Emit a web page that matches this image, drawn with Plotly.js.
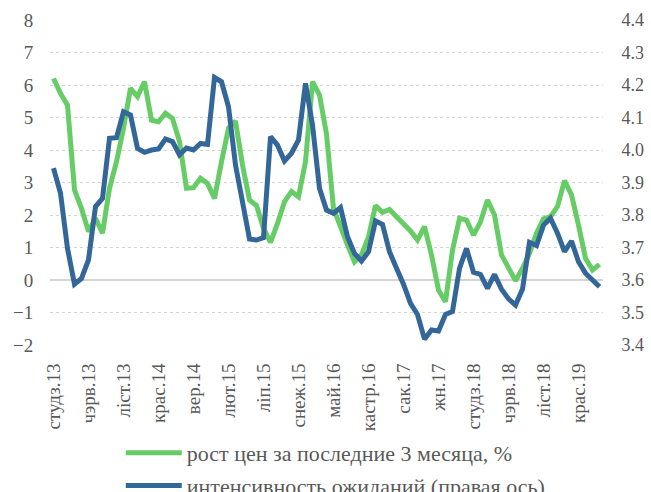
<!DOCTYPE html>
<html>
<head>
<meta charset="utf-8">
<script src="https://cdn.plot.ly/plotly-3.0.1.min.js"></script>
<style>
  html, body { margin: 0; padding: 0; background: #fff; }
  #chart { width: 651px; height: 492px; }
</style>
</head>
<body>
<div id="chart"></div>
<script>
const monthNames = ["студз", "лют", "сак", "крас", "май", "чэрв", "ліп", "жн", "вер", "кастр", "ліст", "снеж"];
const firstYear = 13;
const monthCount = 79;

// рост цен за последние 3 месяца, % (left axis)
const priceGrowth = [
  6.2, 5.74, 5.38, 2.77, 2.2, 1.49, 1.9, 1.44, 2.82, 3.64,
  4.67, 5.9, 5.64, 6.1, 4.92, 4.87, 5.13, 4.97, 4.26, 2.82,
  2.84, 3.13, 2.97, 2.51, 3.64, 4.67, 4.89, 3.54, 2.46, 2.29,
  1.59, 1.16, 1.74, 2.41, 2.72, 2.56, 3.64, 6.1, 5.69, 4.5,
  2.2, 1.59, 1.08, 0.56, 0.77, 1.33, 2.29, 2.08, 2.17, 1.95,
  1.74, 1.51, 1.23, 1.64, 0.77, -0.31, -0.67, 0.92, 1.9, 1.84,
  1.38, 1.79, 2.46, 2.0, 0.77, 0.41, -0.02, 0.36, 0.82, 1.44,
  1.88, 1.95, 2.26, 3.06, 2.62, 1.69, 0.67, 0.31, 0.48
];

// интенсивность ожиданий (right axis)
const expectations = [
  3.944, 3.867, 3.697, 3.587, 3.605, 3.662, 3.826, 3.851, 4.036, 4.038,
  4.118, 4.108, 4.005, 3.993, 4.0, 4.003, 4.034, 4.026, 3.985, 4.006,
  4.0, 4.02, 4.017, 4.223, 4.21, 4.133, 3.954, 3.846, 3.726, 3.723,
  3.73, 4.041, 4.015, 3.966, 3.99, 4.031, 4.205, 4.077, 3.882, 3.815,
  3.805, 3.823, 3.733, 3.682, 3.658, 3.687, 3.782, 3.771, 3.687, 3.636,
  3.587, 3.528, 3.494, 3.418, 3.446, 3.443, 3.494, 3.503, 3.636, 3.697,
  3.624, 3.617, 3.574, 3.617, 3.572, 3.542, 3.523, 3.572, 3.716, 3.706,
  3.769, 3.79, 3.744, 3.687, 3.72, 3.656, 3.621, 3.6, 3.579
];

const months = [];
for (let i = 0; i < monthCount; i++) {
  months.push(monthNames[i % 12] + "." + (firstYear + Math.floor(i / 12)));
}
const tickLabels = months.filter((m, i) => i % 5 === 0);

const textColor = "#595959";
const family = "Liberation Serif, DejaVu Serif, serif";

const traces = [
  {
    x: months,
    y: priceGrowth,
    type: "scatter",
    mode: "lines",
    name: "рост цен за последние 3 месяца, %",
    legendgroup: "a",
    line: { color: "#66cc66", width: 5 },
    yaxis: "y"
  },
  {
    x: months,
    y: expectations,
    type: "scatter",
    mode: "lines",
    name: "интенсивность ожиданий (правая ось)",
    legendgroup: "b",
    line: { color: "#336699", width: 5 },
    yaxis: "y2"
  }
];

const layout = {
  width: 651,
  height: 492,
  margin: { l: 50, r: 48, t: 20, b: 147 },
  paper_bgcolor: "#fff",
  plot_bgcolor: "#fff",
  font: { family: family, size: 18, color: textColor },
  showlegend: true,
  legend: {
    orientation: "v",
    x: 0.128,
    xanchor: "left",
    yref: "container",
    y: 0.122,
    yanchor: "top",
    traceorder: "grouped",
    tracegroupgap: 1,
    itemwidth: 56,
    font: { family: family, size: 22, color: textColor }
  },
  xaxis: {
    type: "category",
    categoryorder: "array",
    categoryarray: months,
    range: [-0.5, monthCount - 0.5],
    tickmode: "array",
    tickvals: tickLabels,
    ticktext: tickLabels,
    tickangle: -90,
    ticks: "outside",
    ticklen: 10,
    tickcolor: "rgba(0,0,0,0)",
    showgrid: false,
    showline: false,
    zeroline: false,
    tickfont: { family: family, size: 19, color: textColor }
  },
  yaxis: {
    range: [-2, 8],
    dtick: 1,
    tick0: 0,
    showgrid: true,
    gridcolor: "#d4d4d4",
    griddash: "dot",
    gridwidth: 1,
    zeroline: true,
    zerolinecolor: "#d4d4d4",
    zerolinewidth: 2,
    showline: false,
    automargin: false,
    ticks: "outside",
    ticklen: 12,
    tickcolor: "rgba(0,0,0,0)",
    tickfont: { family: family, size: 19, color: textColor }
  },
  yaxis2: {
    range: [3.4, 4.4],
    dtick: 0.1,
    tick0: 3.4,
    tickformat: ".1f",
    overlaying: "y",
    side: "right",
    showgrid: false,
    zeroline: false,
    showline: false,
    automargin: false,
    ticks: "outside",
    ticklen: 14,
    tickcolor: "rgba(0,0,0,0)",
    tickfont: { family: family, size: 18, color: textColor }
  }
};

Plotly.newPlot("chart", traces, layout, { displayModeBar: false, staticPlot: true });
</script>
</body>
</html>
